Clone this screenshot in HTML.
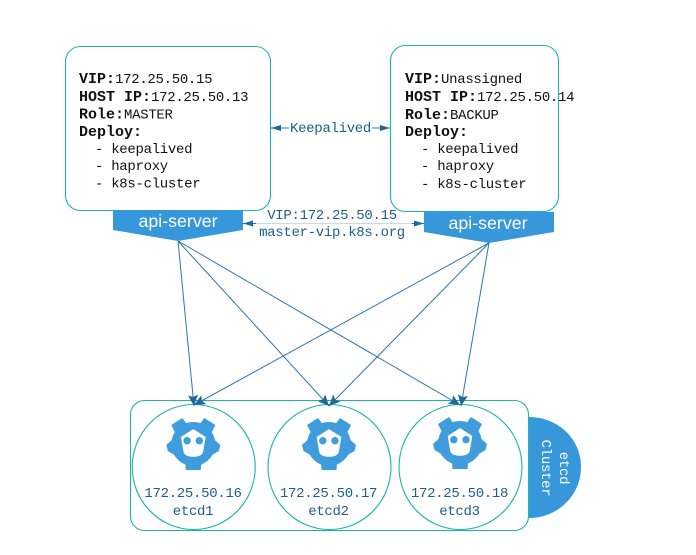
<!DOCTYPE html>
<html><head><meta charset="utf-8"><style>
html,body{margin:0;padding:0;background:#fff}
svg{display:block}
text{font-family:"Liberation Mono",monospace;font-size:14px;letter-spacing:-0.3px;fill:#1c5f8e;white-space:pre}
.k text{fill:#111}
.b{font-weight:bold;font-size:15px;letter-spacing:0}
text.s{font-family:"Liberation Sans",sans-serif;font-size:17.8px;letter-spacing:0;fill:#fff}
.l{stroke:#2f76a8;stroke-width:1;fill:none}
.h{fill:#21689c}
.n{fill:#fff;stroke:#1db5a5;stroke-width:1.1}
</style></head><body>
<svg width="696" height="555" viewBox="0 0 696 555" xmlns="http://www.w3.org/2000/svg">
<defs>
<marker id="a" markerUnits="userSpaceOnUse" markerWidth="12" markerHeight="11" refX="11" refY="5.500" orient="auto">
<polygon points="0,0.500 11,5.500 0,10.500 2,5.500" fill="#21689c"/>
</marker>
<g id="gear">
<circle r="22" fill="#3f9ddd"/>
<g fill="#3f9ddd">
<polygon points="-22,-19 -11,-26 -6.500,-20 -18,-11"/>
<polygon points="22,-19 11,-26 6.500,-20 18,-11"/>
<polygon points="-21.500,-4 -27,1 -25.500,7 -17,12"/>
<polygon points="21.500,-4 27,1 25.500,7 17,12"/>
<polygon points="-8,19 -7.500,26 7.500,26 8,19"/>
</g>
<path fill="#fff" stroke="#fff" stroke-width="2.500" stroke-linejoin="round" d="M0 -13.500 L11 -6.500 L8.500 8 Q7 11.500 0 11.500 Q-7 11.500 -8.500 8 L-11 -6.500 Z"/>
<circle cx="-6.200" cy="-3.300" r="3.700" fill="#3f9ddd"/><circle cx="6" cy="-3.300" r="3.700" fill="#3f9ddd"/>
</g>
</defs>

<rect class="n" x="65.500" y="46.500" width="205" height="164" rx="15"/>
<rect class="n" x="390.500" y="45.500" width="168" height="166" rx="15"/>

<polygon fill="#3797db" points="113,210 243,210 243,230 178,241 113,230"/>
<polygon fill="#3797db" points="424,212 554,212 554,232 489,243 424,232"/>
<text class="s" x="178" y="227" text-anchor="middle">api-server</text>
<text class="s" x="488" y="229" text-anchor="middle">api-server</text>

<g class="k">
<text x="79" y="83"><tspan class="b">VIP:</tspan>172.25.50.15</text>
<text x="79" y="101"><tspan class="b">HOST IP:</tspan>172.25.50.13</text>
<text x="79" y="118.500"><tspan class="b">Role:</tspan>MASTER</text>
<text x="79" y="136"><tspan class="b">Deploy:</tspan></text>
<text x="95" y="153">- keepalived</text>
<text x="95" y="170">- haproxy</text>
<text x="95" y="187.500">- k8s-cluster</text>
<text x="405" y="83"><tspan class="b">VIP:</tspan>Unassigned</text>
<text x="405" y="101"><tspan class="b">HOST IP:</tspan>172.25.50.14</text>
<text x="405" y="119"><tspan class="b">Role:</tspan>BACKUP</text>
<text x="405" y="136"><tspan class="b">Deploy:</tspan></text>
<text x="421" y="153">- keepalived</text>
<text x="421" y="170">- haproxy</text>
<text x="421" y="188">- k8s-cluster</text>
</g>

<!-- Keepalived connector -->
<path class="l" d="M271 128H289M372 128H390"/>
<polygon class="h" points="271,128 281,125 281,131"/>
<polygon class="h" points="390,128 380,125 380,131"/>
<text x="330.500" y="132" text-anchor="middle">Keepalived</text>

<!-- VIP connector -->
<path d="M243 223.500H424" stroke="#c9d9e6" stroke-width="1"/>
<path class="l" d="M243 223.500H256M412 223.500H424"/>
<polygon class="h" points="243,223.500 253,220.500 253,226.500"/>
<polygon class="h" points="424,223.500 414,220.500 414,226.500"/>
<text x="332" y="219" text-anchor="middle">VIP:172.25.50.15</text>
<text x="332" y="236" text-anchor="middle">master-vip.k8s.org</text>

<rect class="n" x="130.500" y="400.500" width="398" height="130" rx="14"/>
<path fill="#3797db" d="M529 417 C558 417 581 439 581 467 C581 495 558 518 529 518 Z"/>

<ellipse class="n" cx="193.700" cy="467" rx="61.500" ry="62.500"/>
<ellipse class="n" cx="329.500" cy="467" rx="61.500" ry="62.500"/>
<ellipse class="n" cx="460.500" cy="467" rx="61.500" ry="62.500"/>

<!-- Fan lines -->
<g class="l">
<path d="M178 241L194 406" marker-end="url(#a)"/>
<path d="M178 241L329 406" marker-end="url(#a)"/>
<path d="M178 241L460 405" marker-end="url(#a)"/>
<path d="M489 243L194 405" marker-end="url(#a)"/>
<path d="M489 243L329 406" marker-end="url(#a)"/>
<path d="M489 243L461 406" marker-end="url(#a)"/>
</g>

<use href="#gear" x="193.300" y="444"/>
<use href="#gear" x="329" y="444"/>
<use href="#gear" x="460" y="443"/>

<text x="193" y="497" text-anchor="middle">172.25.50.16</text>
<text x="193" y="515" text-anchor="middle">etcd1</text>
<text x="328.500" y="497" text-anchor="middle">172.25.50.17</text>
<text x="328.500" y="515" text-anchor="middle">etcd2</text>
<text x="459.500" y="497" text-anchor="middle">172.25.50.18</text>
<text x="459.500" y="515" text-anchor="middle">etcd3</text>

<text transform="translate(560,468) rotate(90)" text-anchor="middle" style="fill:#fff">etcd</text>
<text transform="translate(542,468) rotate(90)" text-anchor="middle" style="fill:#fff">Cluster</text>
</svg>
</body></html>
